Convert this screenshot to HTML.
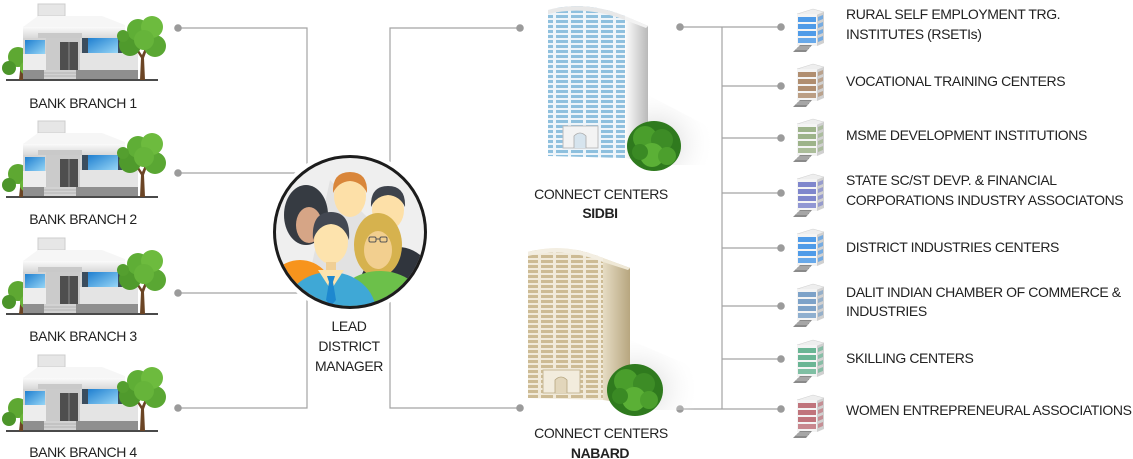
<!DOCTYPE html>
<html><head><meta charset="utf-8">
<style>
html,body{margin:0;padding:0;background:#fff;}
svg{display:block;}
text{font-family:"Liberation Sans",sans-serif;font-size:14px;fill:#222;letter-spacing:-0.4px;}
</style></head>
<body>
<svg width="1133" height="459" viewBox="0 0 1133 459" xmlns="http://www.w3.org/2000/svg">
<defs>
  <linearGradient id="glass" x1="0" y1="0" x2="1" y2="1">
    <stop offset="0" stop-color="#1f7fd0"/><stop offset="1" stop-color="#9ad8f7"/>
  </linearGradient>
  <linearGradient id="wallg" x1="0" y1="0" x2="0" y2="1">
    <stop offset="0" stop-color="#fafafa"/><stop offset="1" stop-color="#d8d8d8"/>
  </linearGradient>
  <linearGradient id="sideW" x1="0" y1="0" x2="1" y2="0">
    <stop offset="0" stop-color="#fdfdfd"/><stop offset="1" stop-color="#b9b9b9"/>
  </linearGradient>
  <linearGradient id="sideT" x1="0" y1="0" x2="1" y2="0">
    <stop offset="0" stop-color="#e6dcc4"/><stop offset="1" stop-color="#b7a67f"/>
  </linearGradient>
  <radialGradient id="shad" cx="0.2" cy="0.7" r="0.8">
    <stop offset="0" stop-color="#cfcfcf"/><stop offset="1" stop-color="#ffffff" stop-opacity="0"/>
  </radialGradient>
  <pattern id="pBlue" patternUnits="userSpaceOnUse" width="15" height="5">
    <rect width="15" height="5" fill="#eef5fa"/>
    <rect x="1" y="0" width="12" height="3" fill="#8ec0de"/>
  </pattern>
  <pattern id="pTan" patternUnits="userSpaceOnUse" width="15" height="5">
    <rect width="15" height="5" fill="#f1eada"/>
    <rect x="1" y="0" width="12" height="3" fill="#cdbb94"/>
  </pattern>
  <clipPath id="cc"><circle cx="350" cy="232" r="74"/></clipPath>

  <g id="bank">
    <rect x="6" y="79" width="152" height="2" fill="#4a4a4a"/>
    <!-- left tree -->
    <path d="M19 80 L21 62 L23 62 L23 80Z" fill="#6b4525"/>
    <circle cx="18" cy="57" r="10" fill="#5ea832"/>
    <circle cx="9" cy="68" r="7" fill="#4c952a"/>
    <circle cx="27" cy="68" r="7" fill="#6ab53a"/>
    <!-- sign -->
    <rect x="38" y="4" width="27" height="12" fill="#e6e6e6" stroke="#cdcdcd" stroke-width="1"/>
    <rect x="40" y="17" width="24" height="3" fill="#7a7a7a"/>
    <!-- upper box -->
    <polygon points="23,27 38,16 102,16 125,25 125,38 23,38" fill="#f6f6f6"/>
    <rect x="23" y="27" width="102" height="11" fill="url(#wallg)"/>
    <rect x="38" y="33" width="44" height="5" fill="#c9c9c9"/>
    <!-- windows band -->
    <rect x="23" y="38" width="115" height="17" fill="#d4d4d4"/>
    <rect x="25" y="40" width="20" height="15" fill="url(#glass)"/>
    <rect x="82" y="38" width="6" height="17" fill="#3b4d5e"/>
    <rect x="88" y="38" width="30" height="16" fill="url(#glass)"/>
    <rect x="118" y="38" width="4" height="16" fill="#3b4d5e"/>
    <rect x="122" y="40" width="16" height="14" fill="url(#glass)"/>
    <!-- entrance -->
    <rect x="46" y="38" width="34" height="34" fill="#cbcbcb"/>
    <rect x="60" y="42" width="18" height="30" fill="#4e4e4e"/>
    <line x1="69" y1="42" x2="69" y2="72" stroke="#999" stroke-width="0.8"/>
    <!-- lower band -->
    <rect x="23" y="54" width="23" height="16" fill="#ededed"/>
    <rect x="80" y="53" width="58" height="17" fill="#e4e4e4"/>
    <rect x="23" y="70" width="115" height="9" fill="#8f8f8f"/>
    <rect x="44" y="70" width="32" height="9" fill="#d2d2d2"/>
    <line x1="44" y1="73" x2="76" y2="73" stroke="#aaa" stroke-width="0.8"/>
    <line x1="44" y1="76" x2="76" y2="76" stroke="#aaa" stroke-width="0.8"/>
    <!-- right tree -->
    <path d="M140 80 L141 58 L136 50 L138 49 L142 55 L146 46 L148 47 L144 58 L145 80Z" fill="#6b4525"/>
    <circle cx="130" cy="45" r="11" fill="#4f9a2c"/>
    <circle cx="155" cy="46" r="11" fill="#5aa733"/>
    <circle cx="138" cy="30" r="11" fill="#5fae36"/>
    <circle cx="152" cy="27" r="11" fill="#6dbb3e"/>
    <circle cx="144" cy="40" r="10" fill="#66b43a"/>
    <circle cx="123" cy="36" r="6" fill="#549f2f"/>
  </g>

  <symbol id="ico" viewBox="0 0 32 46" width="32" height="46">
    <polygon points="4,7 20,2 31,5 24,8" fill="#eeeeee" stroke="#cfcfcf" stroke-width="0.5"/>
    <rect x="4" y="7" width="20" height="32" fill="#f4f4f4"/>
    <polygon points="24,8 31,5 31,36 24,39" fill="#d0d0d0"/>
    <rect x="5" y="10" width="18" height="5" fill="currentColor"/>
    <rect x="5" y="17" width="18" height="5" fill="currentColor"/>
    <rect x="5" y="24" width="18" height="5" fill="currentColor"/>
    <rect x="5" y="31" width="18" height="5" fill="currentColor" opacity="0.85"/>
    <polygon points="25,10 30,8 30,12 25,14" fill="currentColor" opacity="0.7"/>
    <polygon points="25,17 30,15 30,19 25,21" fill="currentColor" opacity="0.7"/>
    <polygon points="25,24 30,22 30,26 25,28" fill="currentColor" opacity="0.7"/>
    <polygon points="25,31 30,29 30,33 25,35" fill="currentColor" opacity="0.7"/>
    <polygon points="0,45 7,38 19,38 13,45" fill="#8a8a8a"/>
    <line x1="3" y1="42" x2="15" y2="42" stroke="#cfcfcf" stroke-width="0.8"/>
    <line x1="5" y1="40" x2="17" y2="40" stroke="#cfcfcf" stroke-width="0.8"/>
  </symbol>
</defs>

<!-- connectors -->
<g stroke="#a3a3a3" stroke-width="1.2" fill="none">
  <polyline points="178,28 307,28 307,408 178,408"/>
  <line x1="178" y1="173" x2="307" y2="173"/>
  <line x1="178" y1="293" x2="307" y2="293"/>
  <polyline points="520,28 390,28 390,408 520,408"/>
  <line x1="680" y1="27" x2="781" y2="27"/>
  <line x1="722" y1="27" x2="722" y2="409"/>
  <line x1="722" y1="86" x2="781" y2="86"/>
  <line x1="722" y1="138" x2="781" y2="138"/>
  <line x1="722" y1="193" x2="781" y2="193"/>
  <line x1="722" y1="248" x2="781" y2="248"/>
  <line x1="722" y1="306" x2="781" y2="306"/>
  <line x1="722" y1="359" x2="781" y2="359"/>
  <line x1="680" y1="409" x2="781" y2="409"/>
</g>
<g fill="#9b9b9b">
  <circle cx="178" cy="28" r="3.8"/><circle cx="178" cy="173" r="3.8"/>
  <circle cx="178" cy="293" r="3.8"/><circle cx="178" cy="408" r="3.8"/>
  <circle cx="520" cy="28" r="3.8"/><circle cx="520" cy="408" r="3.8"/>
  <circle cx="680" cy="27" r="3.8"/><circle cx="680" cy="409" r="3.8"/>
  <circle cx="781" cy="27" r="3.8"/><circle cx="781" cy="86" r="3.8"/>
  <circle cx="781" cy="138" r="3.8"/><circle cx="781" cy="193" r="3.8"/>
  <circle cx="781" cy="248" r="3.8"/><circle cx="781" cy="306" r="3.8"/>
  <circle cx="781" cy="359" r="3.8"/><circle cx="781" cy="409" r="3.8"/>
</g>

<!-- bank branches -->
<use href="#bank"/>
<use href="#bank" transform="translate(0,117)"/>
<use href="#bank" transform="translate(0,234)"/>
<use href="#bank" transform="translate(0,351)"/>
<text x="83" y="108" text-anchor="middle">BANK BRANCH 1</text>
<text x="83" y="224" text-anchor="middle">BANK BRANCH 2</text>
<text x="83" y="341" text-anchor="middle">BANK BRANCH 3</text>
<text x="83" y="457" text-anchor="middle">BANK BRANCH 4</text>

<!-- lead district manager -->
<circle cx="350" cy="232" r="81" fill="#fff"/>
<circle cx="350" cy="232" r="75" fill="#efefef"/>
<g clip-path="url(#cc)">
  <polygon points="330,180 430,280 430,320 300,320" fill="#e2e2e2"/>
  <!-- top man -->
  <ellipse cx="350" cy="196" rx="16" ry="21" fill="#fde0a8"/>
  <path d="M333 193 Q332 172 350 172 Q368 172 367 193 Q362 182 350 181 Q338 182 333 193Z" fill="#d9863a"/>
  <!-- right man -->
  <ellipse cx="398" cy="295" rx="40" ry="48" fill="#30353d"/>
  <ellipse cx="388" cy="210" rx="16" ry="20" fill="#fde0a8"/>
  <path d="M371 207 Q370 186 388 186 Q406 186 405 207 Q400 196 388 195 Q376 196 371 207Z" fill="#3e434c"/>
  <!-- left woman -->
  <ellipse cx="306" cy="215" rx="22" ry="30" fill="#363b42"/>
  <ellipse cx="309" cy="225" rx="13" ry="18" fill="#d6a586"/>
  <ellipse cx="300" cy="300" rx="36" ry="40" fill="#f7941d"/>
  <!-- blonde woman -->
  <ellipse cx="378" cy="245" rx="24" ry="32" fill="#d6b24e"/>
  <ellipse cx="378" cy="250" rx="14" ry="19" fill="#f2cf8f"/>
  <rect x="369" y="237" width="7" height="5" rx="1.5" fill="none" stroke="#555" stroke-width="1"/>
  <rect x="380" y="237" width="7" height="5" rx="1.5" fill="none" stroke="#555" stroke-width="1"/>
  <line x1="376" y1="239" x2="380" y2="239" stroke="#555" stroke-width="1"/>
  <ellipse cx="380" cy="305" rx="44" ry="34" fill="#6cc04a"/>
  <!-- front man -->
  <ellipse cx="331" cy="242" rx="17" ry="22" fill="#fde3ad"/>
  <path d="M313 240 Q311 212 331 212 Q351 212 349 240 Q344 225 331 224 Q318 225 313 240Z" fill="#434852"/>
  <rect x="326" y="262" width="10" height="12" fill="#f0cf95"/>
  <ellipse cx="330" cy="312" rx="46" ry="40" fill="#3fa8d6"/>
  <polygon points="318,270 331,290 344,270" fill="#fde3ad"/>
  <polygon points="327,276 335,276 333,282 336,300 331,306 326,300 329,282" fill="#1e88cf"/>
</g>
<circle cx="350" cy="232" r="75.5" fill="none" stroke="#1c1c1c" stroke-width="3"/>
<text x="349" y="331" text-anchor="middle">LEAD</text>
<text x="349" y="351" text-anchor="middle">DISTRICT</text>
<text x="349" y="371" text-anchor="middle">MANAGER</text>

<!-- SIDBI building -->
<polygon points="648,95 715,130 715,165 640,165" fill="url(#shad)"/>
<path d="M548 10 Q585 0 625 16 L625 158 L548 156Z" fill="url(#pBlue)"/>
<path d="M548 10 Q585 0 625 16 L625 20 Q585 5 548 14Z" fill="#e8e8e8"/>
<polygon points="625,16 648,26 648,162 625,158" fill="url(#sideW)"/>
<polygon points="625,16 648,26 646,28 625,20" fill="#f2f2f2"/>
<rect x="563" y="126" width="35" height="22" fill="#f3f3f3" stroke="#bdbdbd" stroke-width="1"/>
<path d="M574 148 L574 136 Q580 130 586 136 L586 148" fill="#d6e4ee" stroke="#aaa" stroke-width="0.8"/>
<g>
  <ellipse cx="654" cy="146" rx="27" ry="25" fill="#2f7a1e"/>
  <circle cx="645" cy="138" r="12" fill="#4a9e2c"/>
  <circle cx="662" cy="140" r="11" fill="#3d8c26"/>
  <circle cx="652" cy="155" r="12" fill="#5bb036"/>
  <circle cx="640" cy="152" r="8" fill="#3a8a24"/>
  <circle cx="667" cy="156" r="9" fill="#4c9f2d"/>
</g>
<text x="601" y="199" text-anchor="middle">CONNECT CENTERS</text>
<text x="600" y="218" text-anchor="middle" font-weight="bold">SIDBI</text>

<!-- NABARD building -->
<polygon points="630,340 700,370 700,410 620,410" fill="url(#shad)"/>
<path d="M528 252 Q565 242 603 258 L603 400 L528 398Z" fill="url(#pTan)"/>
<path d="M528 252 Q565 242 603 258 L603 262 Q565 247 528 256Z" fill="#f3eee2"/>
<polygon points="603,258 630,268 630,404 603,400" fill="url(#sideT)"/>
<polygon points="603,258 630,268 628,270 603,262" fill="#efe8d6"/>
<rect x="543" y="370" width="37" height="23" fill="#f2ecdd" stroke="#c8b996" stroke-width="1"/>
<path d="M555 393 L555 380 Q561 374 567 380 L567 393" fill="#e2d6bb" stroke="#b5a57f" stroke-width="0.8"/>
<g>
  <ellipse cx="635" cy="390" rx="28" ry="26" fill="#2f7a1e"/>
  <circle cx="626" cy="381" r="12" fill="#4a9e2c"/>
  <circle cx="644" cy="384" r="11" fill="#3d8c26"/>
  <circle cx="634" cy="399" r="12" fill="#5bb036"/>
  <circle cx="620" cy="396" r="8" fill="#3a8a24"/>
  <circle cx="649" cy="400" r="9" fill="#4c9f2d"/>
</g>
<text x="601" y="438" text-anchor="middle">CONNECT CENTERS</text>
<text x="600" y="458" text-anchor="middle" font-weight="bold">NABARD</text>

<!-- right icons -->
<use href="#ico" x="793" y="7" style="color:#4f9be8"/>
<use href="#ico" x="793" y="62" style="color:#b08e70"/>
<use href="#ico" x="793" y="117" style="color:#9db38a"/>
<use href="#ico" x="793" y="172" style="color:#7f86cc"/>
<use href="#ico" x="793" y="227" style="color:#4f9be8"/>
<use href="#ico" x="793" y="282" style="color:#7da2c8"/>
<use href="#ico" x="793" y="338" style="color:#6ab594"/>
<use href="#ico" x="793" y="393" style="color:#c0747c"/>

<!-- right labels -->
<text x="846" y="19">RURAL SELF EMPLOYMENT TRG.</text>
<text x="846" y="39">INSTITUTES (RSETIs)</text>
<text x="846" y="86">VOCATIONAL TRAINING CENTERS</text>
<text x="846" y="140">MSME DEVELOPMENT INSTITUTIONS</text>
<text x="846" y="185">STATE SC/ST DEVP. &amp; FINANCIAL</text>
<text x="846" y="205">CORPORATIONS INDUSTRY ASSOCIATONS</text>
<text x="846" y="252">DISTRICT INDUSTRIES CENTERS</text>
<text x="846" y="297">DALIT INDIAN CHAMBER OF COMMERCE &amp;</text>
<text x="846" y="316">INDUSTRIES</text>
<text x="846" y="363">SKILLING CENTERS</text>
<text x="846" y="415">WOMEN ENTREPRENEURAL ASSOCIATIONS</text>
</svg>
</body></html>
